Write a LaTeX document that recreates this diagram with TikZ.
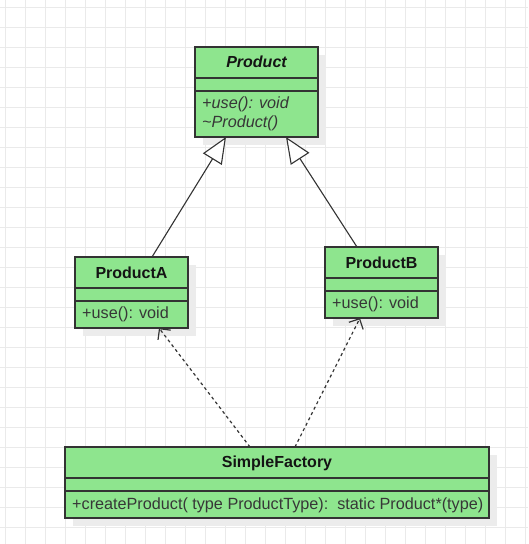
\documentclass[tikz,border=0pt]{standalone}
\usepackage{fontspec}
\setmainfont{Liberation Sans}
\usetikzlibrary{arrows.meta,calc}
\definecolor{classgreen}{RGB}{142,229,142}
\definecolor{edgegray}{RGB}{51,51,51}
\definecolor{shadowgray}{RGB}{236,236,236}
\definecolor{gridgray}{RGB}{234,234,234}
\definecolor{textdark}{RGB}{20,20,20}
\tikzset{
  shadowbox/.style={fill=shadowgray, draw=none},
  classbox/.style={draw=edgegray, fill=classgreen, line width=1.3pt, inner sep=0pt, outer sep=0pt, anchor=north west},
  divider/.style={draw=edgegray, line width=1.3pt},
  titletext/.style={font=\fontsize{16}{19}\selectfont\bfseries, text=textdark, anchor=base, inner sep=0pt},
  methodtext/.style={font=\fontsize{16.2}{19}\selectfont, anchor=base west, text=textdark!85!white, inner sep=0pt},
  inherit/.style={draw=edgegray, line width=1.1pt, -{Triangle[open, length=26pt, width=22pt, fill=white, line width=1.1pt]}},
  depend/.style={draw=edgegray, line width=1.2pt, dash pattern=on 3pt off 3pt, -{Straight Barb[length=8pt, width=16pt, line width=1.2pt]}}
}
\begin{document}
\begin{tikzpicture}[x=1pt, y=-1pt]
\useasboundingbox (0,0) rectangle (528,544);
\fill[white] (0,0) rectangle (528,544);
% grid
\foreach \gx in {5,25,...,525} \draw[gridgray, line width=1pt] (\gx,0) -- (\gx,544);
\foreach \gy in {7,27,...,543} \draw[gridgray, line width=1pt] (0,\gy) -- (528,\gy);

% shadows
\fill[shadowbox] (203,55) rectangle (326,145);
\fill[shadowbox] (83,265) rectangle (196,336);
\fill[shadowbox] (333,255) rectangle (446,326);
\fill[shadowbox] (73,455) rectangle (497,526);

% Product
\node[classbox, minimum width=123pt, minimum height=90pt] (product) at (195,47) {};
\draw[divider] (195,78) -- (318,78);
\draw[divider] (195,91) -- (318,91);
\node[titletext] (product-title) at (256.5,67) {\itshape Product};
\node[methodtext] (product-m1) at (202,108) {\itshape +use(): void};
\node[methodtext] (product-m2) at (202,127) {\itshape \char`\~Product()};

% ProductA
\node[classbox, minimum width=113pt, minimum height=71pt] (pa) at (75,257) {};
\draw[divider] (75,288) -- (188,288);
\draw[divider] (75,301) -- (188,301);
\node[titletext] (pa-title) at (131.5,278) {ProductA};
\node[methodtext] (pa-m1) at (82,318) {+use(): void};

% ProductB
\node[classbox, minimum width=113pt, minimum height=71pt] (pb) at (325,247) {};
\draw[divider] (325,278) -- (438,278);
\draw[divider] (325,291) -- (438,291);
\node[titletext] (pb-title) at (381.5,268) {ProductB};
\node[methodtext] (pb-m1) at (332,308) {+use(): void};

% SimpleFactory
\node[classbox, minimum width=424pt, minimum height=71pt] (sf) at (65,447) {};
\draw[divider] (65,478) -- (489,478);
\draw[divider] (65,491) -- (489,491);
\node[titletext] (sf-title) at (277,467) {SimpleFactory};
\node[methodtext] (sf-m1) at (72,509) {+createProduct( type ProductType):\ \ static Product*(type)};

% inheritance
\draw[inherit] ($(pa.north)+(20.5,0)$) -- ($(product.south)+(-30.5,0)$);
\draw[inherit] ($(pb.north)+(-24.5,0)$) -- ($(product.south)+(29.5,0)$);

% dependencies
\draw[depend] ($(sf.north)+(-27,0)$) -- ($(pa.south)+(27.5,0)$);
\draw[depend] ($(sf.north)+(18,0)$) -- ($(pb.south)+(-21.5,0)$);
\end{tikzpicture}
\end{document}
